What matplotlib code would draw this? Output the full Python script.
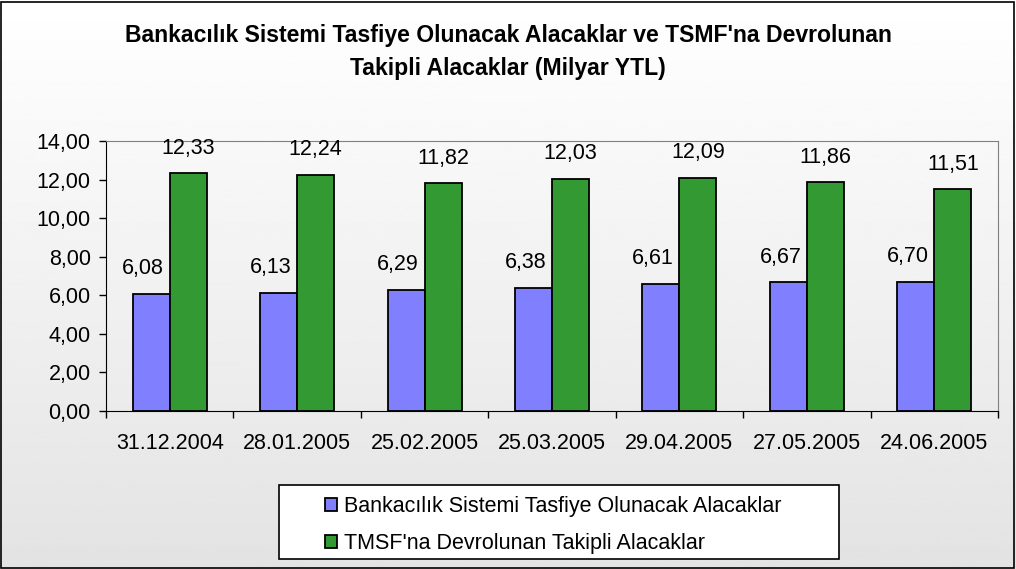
import numpy as np
import matplotlib
matplotlib.use("Agg")
import matplotlib.pyplot as plt

plt.rcParams['font.family'] = ['Liberation Sans', 'DejaVu Sans']

tarihler = ["31.12.2004", "28.01.2005", "25.02.2005", "25.03.2005",
            "29.04.2005", "27.05.2005", "24.06.2005"]
bankacilik = [6.08, 6.13, 6.29, 6.38, 6.61, 6.67, 6.70]
tmsf = [12.33, 12.24, 11.82, 12.03, 12.09, 11.86, 11.51]
seri_adlari = ["Bankacılık Sistemi Tasfiye Olunacak Alacaklar",
               "TMSF'na Devrolunan Takipli Alacaklar"]

W, H = 1016, 569
fig = plt.figure(figsize=(W / 100, H / 100), dpi=100)

# gradient background
bg = fig.add_axes([0, 0, 1, 1], zorder=-10)
grad = np.linspace(1.0, 0.89, 256).reshape(-1, 1)
bg.imshow(grad, aspect='auto', cmap='gray', vmin=0, vmax=1, extent=[0, 1, 0, 1])
bg.set_xlim(0, 1); bg.set_ylim(0, 1)
bg.axis('off')
bg.add_patch(plt.Rectangle((0.001, 0.002), 0.997, 0.995, fill=False,
                           edgecolor='black', lw=1.2, transform=bg.transAxes))
# legend box
bg.add_patch(plt.Rectangle((279 / W, 1 - 559 / H), 560 / W, 74 / H, facecolor='white',
                           edgecolor='black', lw=1.2, transform=bg.transAxes))

ax = fig.add_axes([106 / W, 1 - 411 / H, (998 - 106) / W, (411 - 141) / H])
ax.patch.set_alpha(0)

x = np.arange(len(tarihler))
bw = 0.29
b1 = ax.bar(x - bw / 2, bankacilik, bw, color='#8080ff', edgecolor='black', lw=1.3,
            label=seri_adlari[0])
b2 = ax.bar(x + bw / 2, tmsf, bw, color='#339933', edgecolor='black', lw=1.3,
            label=seri_adlari[1])

fs = 15.5
for r, v in zip(b1, bankacilik):
    ax.annotate(f"{v:.2f}".replace('.', ','), (r.get_x() + r.get_width() / 2, v),
                xytext=(-8, 25), textcoords='offset pixels', ha='center', va='center',
                fontsize=fs)
for r, v in zip(b2, tmsf):
    ax.annotate(f"{v:.2f}".replace('.', ','), (r.get_x() + r.get_width() / 2, v),
                xytext=(0, 25), textcoords='offset pixels', ha='center', va='center',
                fontsize=fs)

ax.set_xlim(-0.5, len(tarihler) - 0.5)
ax.set_ylim(0, 14)
ax.set_yticks(np.arange(0, 15, 2))
ax.set_yticklabels([f"{v:.2f}".replace('.', ',') for v in np.arange(0, 15, 2)], fontsize=fs)
ax.set_xticks(x)
ax.set_xticklabels(tarihler, fontsize=fs)
ax.set_xticks(np.arange(-0.5, len(tarihler), 1), minor=True)
ax.tick_params(axis='x', which='major', length=0, pad=16)
ax.tick_params(axis='x', which='minor', length=5, width=1)
ax.tick_params(axis='y', length=5, width=1, pad=6)

for s in ['top', 'right']:
    ax.spines[s].set_color('#808080')
for s in ['left', 'bottom']:
    ax.spines[s].set_color('black')

fig.text(0.5, 1 - 33 / H, "Bankacılık Sistemi Tasfiye Olunacak Alacaklar ve TSMF'na Devrolunan",
         ha='center', va='center_baseline', fontsize=16.6, fontweight='bold')
fig.text(0.5, 1 - 66 / H, "Takipli Alacaklar (Milyar YTL)",
         ha='center', va='center_baseline', fontsize=16.6, fontweight='bold')

leg = fig.legend(handles=[b1, b2], loc='center left', bbox_to_anchor=(308 / W, 1 - 525 / H),
                 fontsize=fs, frameon=False,
                 handlelength=0.55, handleheight=0.55, handletextpad=0.3,
                 borderpad=0.3, labelspacing=0.75)

fig.savefig("out.png", dpi=100)
